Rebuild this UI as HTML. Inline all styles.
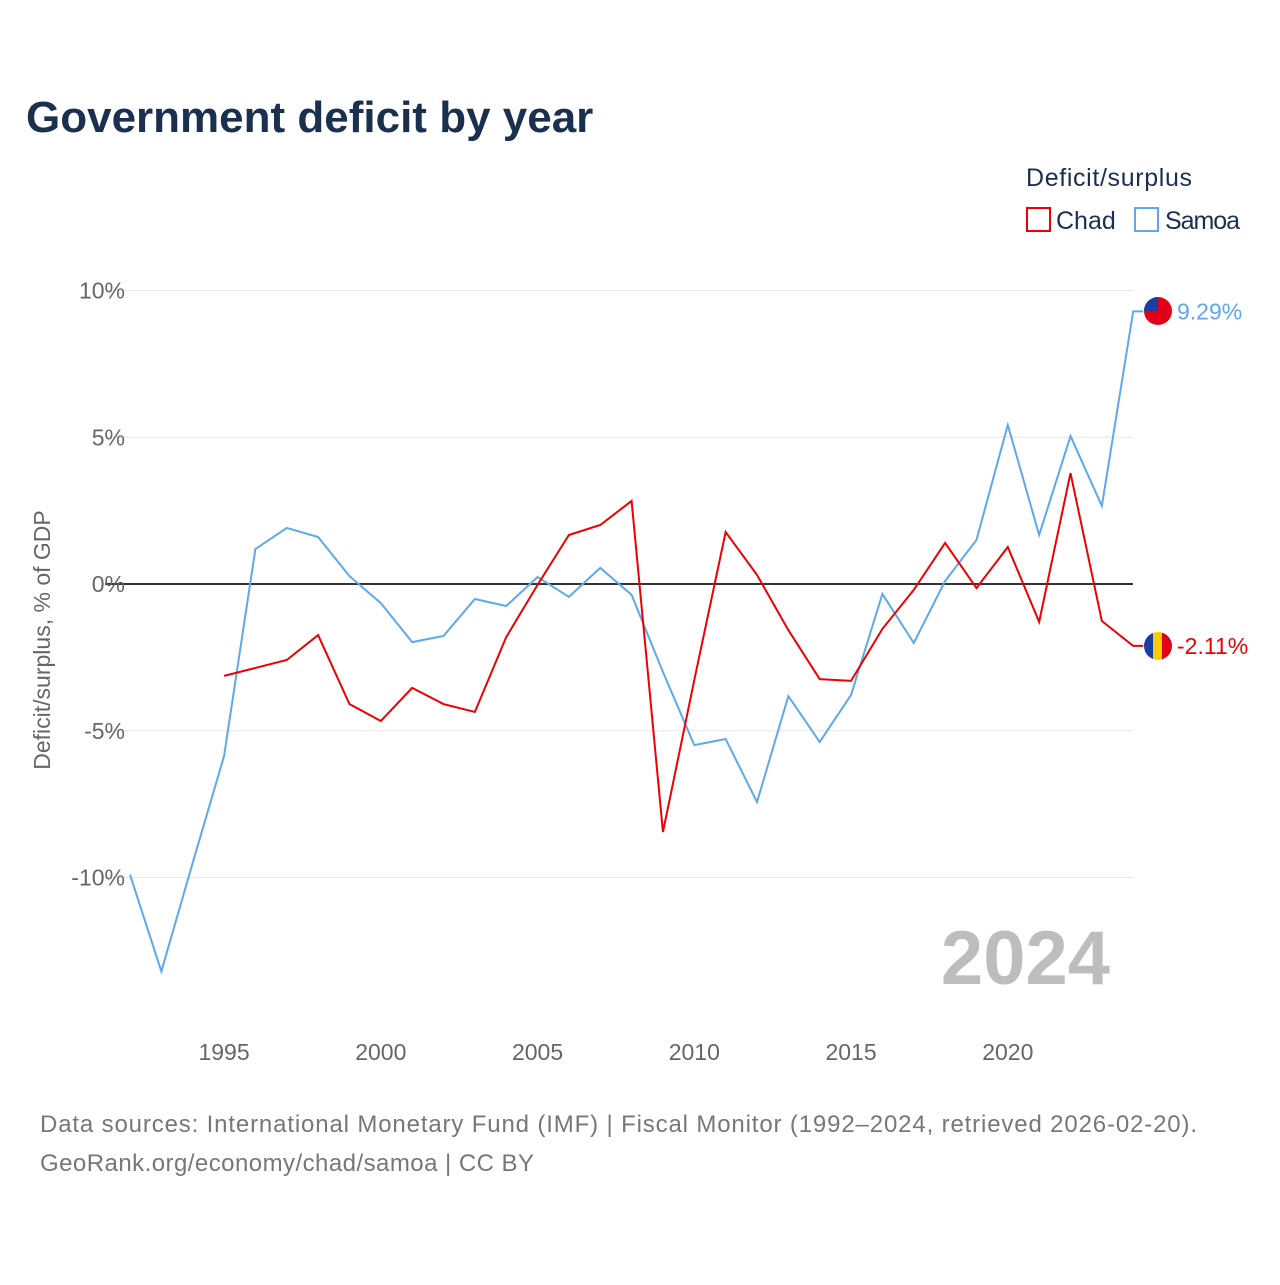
<!DOCTYPE html>
<html><head><meta charset="utf-8"><style>
body{margin:0;background:#fff;font-family:"Liberation Sans",sans-serif}
</style></head><body>
<svg width="1280" height="1280" xmlns="http://www.w3.org/2000/svg" id="chart">
<defs>
<clipPath id="c1"><circle cx="1158" cy="311" r="14"/></clipPath>
<clipPath id="c2"><circle cx="1158" cy="646" r="14"/></clipPath>
</defs>
<text x="26" y="132" font-size="44" font-weight="bold" fill="#1b2f4e">Government deficit by year</text>
<text x="1026" y="186" font-size="25" fill="#1b2f4e" textLength="166">Deficit/surplus</text>
<g><rect x="1027" y="208" width="23" height="23" fill="none" stroke="#ee0000" stroke-width="2"/><text x="1056" y="229" font-size="25" fill="#1b2f4e">Chad</text></g>
<g><rect x="1135" y="208" width="23" height="23" fill="none" stroke="#5ea8ee" stroke-width="2"/><text x="1165" y="229" font-size="25" fill="#1b2f4e" textLength="75">Samoa</text></g>
<g id="grid"></g><g id="xt"></g><g id="series"></g>
<g clip-path="url(#c1)"><rect x="1144" y="297" width="28" height="28" fill="#e0001a"/><rect x="1144" y="297" width="14" height="14" fill="#1a3fa0"/></g>
<g clip-path="url(#c2)"><rect x="1144" y="632" width="10" height="28" fill="#1a3fa0"/><rect x="1153" y="632" width="10" height="28" fill="#fecb00"/><rect x="1162" y="632" width="10" height="28" fill="#e0001a"/></g>
<text transform="translate(50,640) rotate(-90)" text-anchor="middle" font-size="23" fill="#666">Deficit/surplus, % of GDP</text>
<text x="1110" y="984" text-anchor="end" font-size="76" font-weight="bold" fill="#bdbdbd">2024</text>
<text x="40" y="1132" font-size="24" fill="#777" textLength="1157">Data sources: International Monetary Fund (IMF) | Fiscal Monitor (1992–2024, retrieved 2026-02-20).</text>
<text x="40" y="1171" font-size="24" fill="#777" textLength="494">GeoRank.org/economy/chad/samoa | CC BY</text>
</svg>
<script>
const years=[1992,1993,1994,1995,1996,1997,1998,1999,2000,2001,2002,2003,2004,2005,2006,2007,2008,2009,2010,2011,2012,2013,2014,2015,2016,2017,2018,2019,2020,2021,2022,2023,2024];
const samoa=[-9.9,-13.2,-9.5,-5.86,1.19,1.91,1.6,0.27,-0.65,-1.98,-1.77,-0.51,-0.75,0.24,-0.44,0.55,-0.37,-3.0,-5.49,-5.28,-7.43,-3.82,-5.38,-3.78,-0.34,-2.01,0.1,1.5,5.42,1.67,5.04,2.66,9.29];
const chad=[null,null,null,-3.13,-2.86,-2.59,-1.74,-4.09,-4.67,-3.54,-4.09,-4.36,-1.81,-0.03,1.67,2.01,2.83,-8.45,-3.27,1.77,0.31,-1.57,-3.24,-3.3,-1.53,-0.2,1.4,-0.14,1.26,-1.29,3.78,-1.26,-2.11];
const yTicks=[10,5,0,-5,-10];
const xTicks=[1995,2000,2005,2010,2015,2020];
const NS="http://www.w3.org/2000/svg";
const X=y=>130+(y-1992)*31.35, Y=v=>584-v*29.35;
function mk(t,a,p){const e=document.createElementNS(NS,t);for(const k in a)e.setAttribute(k,a[k]);p.appendChild(e);return e;}
const g=document.getElementById('grid');
yTicks.forEach(v=>{
 const l=mk('line',{x1:105,x2:1133,y1:Y(v),y2:Y(v),stroke:v===0?'#333':'#e6e6e6','stroke-width':v===0?2:1},g);
 
 
 const t=mk('text',{x:125,y:Y(v)+8,'text-anchor':'end','font-size':23,fill:'#666'},g);
 
 
 t.textContent=v+'%';
});
const xt=document.getElementById('xt');
xTicks.forEach(y=>{
 const t=mk('text',{x:X(y),y:1060,'text-anchor':'middle','font-size':23,fill:'#666'},xt);
 
 
 t.textContent=y;
});
const s=document.getElementById('series');
function line(vals,color,name,label){
 let d='';let last;
 vals.forEach((v,i)=>{if(v===null)return;d+=(d?'L':'M')+X(years[i])+','+Y(v);last=v;});
 d+='L'+(X(years[years.length-1])+10)+','+Y(last);
 const p=mk('path',{d:d,fill:'none',stroke:color,'stroke-width':2},s);
 
 
 const t=mk('text',{x:1177,y:Y(last)+8,'font-size':23,fill:color},s);
 
 
 t.textContent=label(last);
}
line(samoa,'#5ea8ee','samoa',v=>v.toFixed(2)+'%');
line(chad,'#ee0000','chad',v=>v.toFixed(2)+'%');
</script>
</body></html>
